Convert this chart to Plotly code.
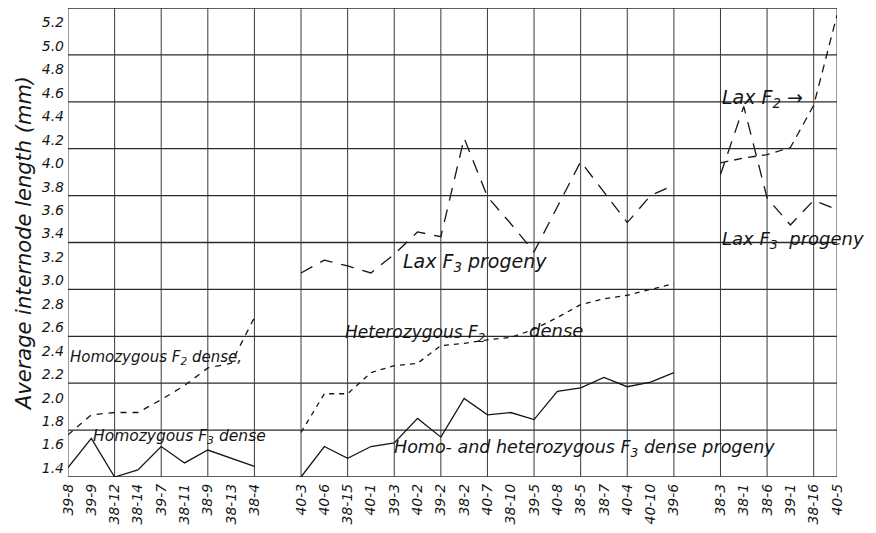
import plotly.graph_objects as go

# ---- data -------------------------------------------------------------
categories = ["39-8", "39-9", "38-12", "38-14", "39-7", "38-11", "38-9", "38-13", "38-4",
              "",
              "40-3", "40-6", "38-15", "40-1", "39-3", "40-2", "39-2", "38-2", "40-7",
              "38-10", "39-5", "40-8", "38-5", "38-7", "40-4", "40-10", "39-6",
              "",
              "38-3", "38-1", "38-6", "39-1", "38-16", "40-5"]

N = None
homo_f3_dense = [1.48, 1.73, 1.40, 1.46, 1.66, 1.52, 1.63, 1.56, 1.49] + [N] * 25
homo_f2_dense = [1.76, 1.93, 1.95, 1.95, 2.06, 2.18, 2.33, 2.37, 2.76] + [N] * 25
homohet_f3_dense = [N] * 10 + [1.40, 1.66, 1.56, 1.66, 1.69, 1.90, 1.74, 2.07, 1.93,
                               1.95, 1.89, 2.13, 2.16, 2.25, 2.17, 2.21, 2.29] + [N] * 7
het_f2_dense = [N] * 10 + [1.78, 2.11, 2.11, 2.29, 2.35, 2.37, 2.52, 2.54, 2.57,
                           2.59, 2.66, 2.76, 2.87, 2.92, 2.95, 3.00, 3.05] + [N] * 7
lax_f3 = [N] * 10 + [3.14, 3.25, 3.20, 3.14, 3.30, 3.49, 3.45, 4.29, 3.79,
                     3.56, 3.32, 3.71, 4.09, 3.83, 3.57, 3.80, 3.89] + [N] + \
         [3.98, 4.56, 3.78, 3.55, 3.76, 3.68]
lax_f2 = [N] * 28 + [4.08, 4.12, 4.15, 4.21, 4.57, 5.34]

y_ticks = [1.4, 1.6, 1.8, 2.0, 2.2, 2.4, 2.6, 2.8, 3.0, 3.2, 3.4, 3.6, 3.8,
           4.0, 4.2, 4.4, 4.6, 4.8, 5.0, 5.2]
y_grid = [1.4, 1.8, 2.2, 2.6, 3.0, 3.4, 3.8, 4.2, 4.6, 5.0, 5.4]

# ---- figure -----------------------------------------------------------
xs = list(range(len(categories)))
tick_idx = [i for i, c in enumerate(categories) if c]
INK = "#151515"
FONT = "DejaVu Sans"

fig = go.Figure()

def add(vals, dash, width=1.3):
    fig.add_trace(go.Scatter(x=xs, y=vals, mode="lines", connectgaps=False,
                             line=dict(color=INK, width=width, dash=dash),
                             hoverinfo="skip", showlegend=False))

add(homo_f3_dense, "solid")
add(homo_f2_dense, "6px,6px")
add(homohet_f3_dense, "solid")
add(het_f2_dense, "5px,5px")
add(lax_f3, "13px,9px")
add(lax_f2, "8px,6px")

shapes = []
for g in y_grid:
    shapes.append(dict(type="line", xref="paper", yref="y", x0=0, x1=1, y0=g, y1=g,
                       line=dict(color="#2a2a2a", width=1.3), layer="below"))
v_grid = list(range(0, len(categories), 2)) + [len(categories) - 1]
for v in v_grid:
    shapes.append(dict(type="line", xref="x", yref="paper", x0=v, x1=v, y0=0, y1=1,
                       line=dict(color="#3a3a3a", width=1.0), layer="below"))

labels = [
    ("Homozygous F<sub>2</sub> dense,", 0.0, 2.42, 15),
    ("Homozygous F<sub>3</sub> dense", 1.0, 1.74, 15.5),
    ("Heterozygous F<sub>2</sub>", 11.8, 2.62, 17),
    ("dense", 19.7, 2.65, 18),
    ("Homo- and heterozygous F<sub>3</sub> dense progeny", 13.9, 1.64, 17.5),
    ("Lax F<sub>3</sub> progeny", 14.3, 3.23, 19),
    ("Lax F<sub>2</sub> →", 28.0, 4.63, 19),
    ("Lax F<sub>3</sub>  progeny", 28.0, 3.42, 18),
]
annotations = [dict(text=t, x=x, y=y, xref="x", yref="y", xanchor="left",
                    yanchor="middle", showarrow=False,
                    font=dict(family=FONT, size=s, color=INK, style="italic"))
               for t, x, y, s in labels]

fig.update_layout(
    width=876, height=533,
    margin=dict(l=60, r=47, t=0, b=64),
    paper_bgcolor="white", plot_bgcolor="white",
    font=dict(family=FONT, color=INK, style="italic"),
    shapes=shapes, annotations=annotations,
    xaxis=dict(range=[0, len(categories) - 1], tickmode="array",
               tickvals=tick_idx, ticktext=[categories[i] for i in tick_idx],
               tickangle=-90, showgrid=False, zeroline=False, automargin=False,
               ticks="", showline=False, tickfont=dict(size=14, family=FONT),
               ticklabelstandoff=3),
    yaxis=dict(range=[1.4, 5.4], tickmode="array", tickvals=y_ticks,
               ticktext=[f"{v:.1f}" for v in y_ticks], showgrid=False,
               zeroline=False, ticks="", showline=False, automargin=False,
               tickfont=dict(size=14, family=FONT), ticklabelshift=-9,
               ticklabelstandoff=3,
               title=dict(text="Average internode length (mm)", standoff=4,
                          font=dict(size=21, family=FONT, style="italic"))),
)

fig.write_html("out.html")
